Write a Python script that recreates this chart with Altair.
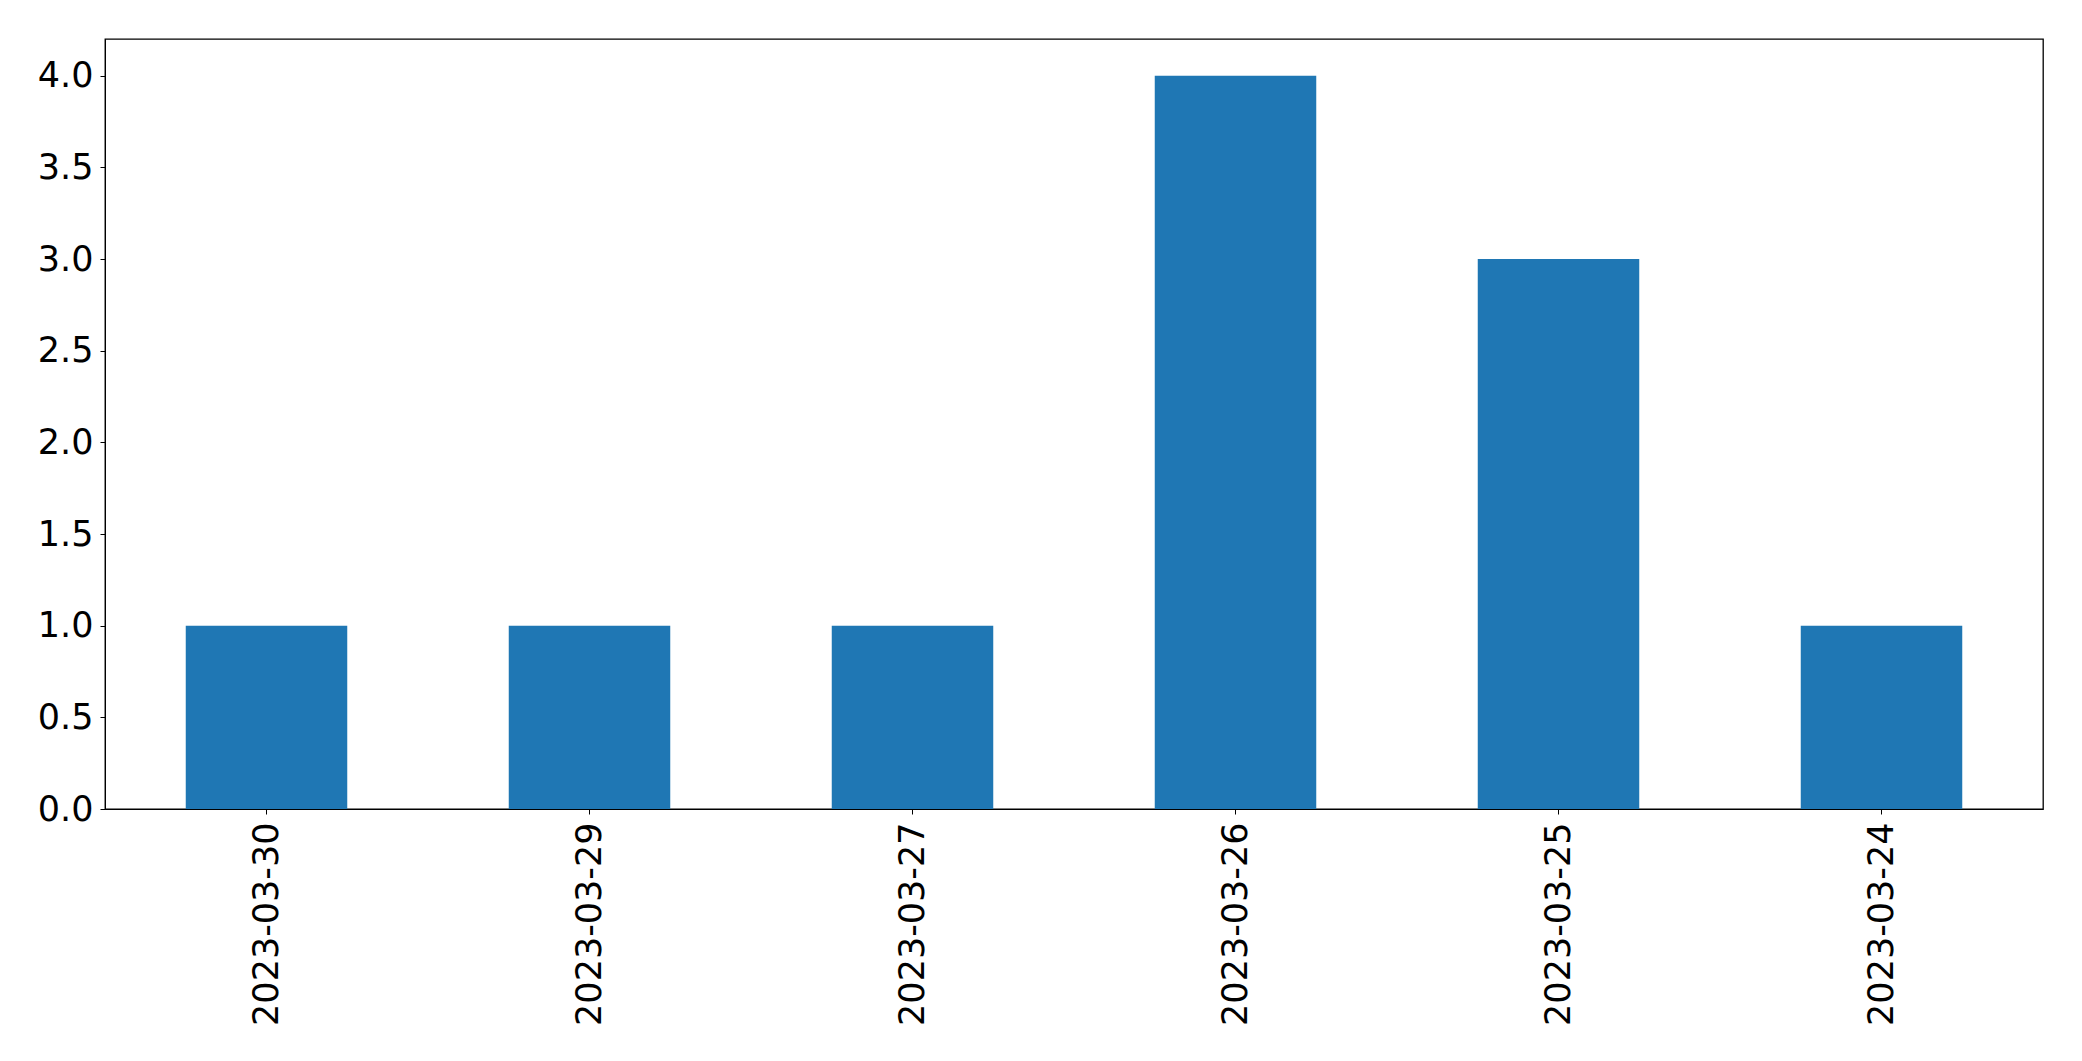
import altair as alt
import pandas as pd

dates = ["2023-03-30", "2023-03-29", "2023-03-27", "2023-03-26", "2023-03-25", "2023-03-24"]
counts = [1, 1, 1, 4, 3, 1]
y_ticks = [0.0, 0.5, 1.0, 1.5, 2.0, 2.5, 3.0, 3.5, 4.0]

df = pd.DataFrame({"date": dates, "count": counts})

chart = alt.Chart(df).mark_bar(color="#1f77b4").encode(
    x=alt.X("date:N", sort=dates, title=None,
            scale=alt.Scale(paddingInner=0.5, paddingOuter=0.25),
            axis=alt.Axis(labelAngle=-90, labelFontSize=35, labelFont="DejaVu Sans",
                          labelColor="black", tickColor="black", domainColor="black",
                          tickSize=5, labelPadding=8, grid=False, labelLimit=0)),
    y=alt.Y("count:Q", title=None,
            scale=alt.Scale(domain=[0, 4.2], nice=False),
            axis=alt.Axis(values=y_ticks, format=".1f", labelFontSize=35,
                          labelFont="DejaVu Sans", labelColor="black", tickColor="black",
                          domainColor="black", tickSize=5, labelPadding=7, grid=False)),
).properties(
    width=1938, height=770,
    autosize=alt.AutoSizeParams(type="none"),
    padding={"left": 97, "top": 31, "right": 30, "bottom": 225},
).configure_view(stroke="black", strokeWidth=1.3)

chart.save("out.html", embed_options={"renderer": "svg", "actions": False})
